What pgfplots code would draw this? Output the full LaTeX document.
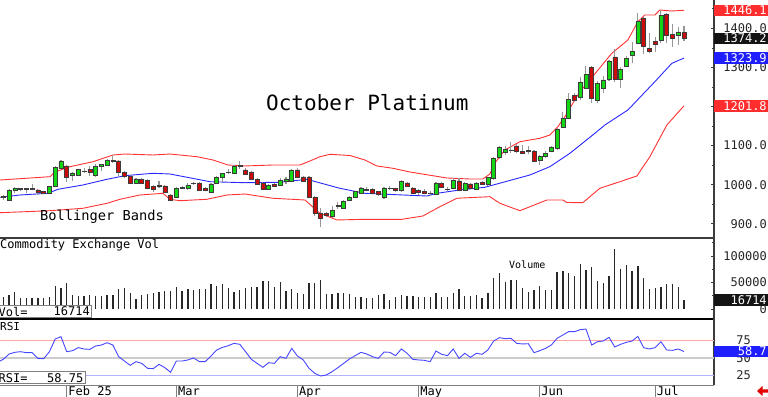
\documentclass[border=0pt]{standalone}
\usepackage{pgfplots}
\pgfplotsset{compat=1.18}
\usepackage{pgfplotstable}
\usepackage{fontspec}
\setmainfont{DejaVu Sans Mono}
\definecolor{bandred}{RGB}{255,50,50}
\definecolor{bandblue}{RGB}{40,40,255}
\definecolor{upgreen}{RGB}{20,215,20}
\definecolor{downred}{RGB}{205,10,10}
\definecolor{wickgray}{RGB}{150,150,150}
\definecolor{bodyline}{RGB}{60,60,60}
\definecolor{boxred}{RGB}{255,45,45}
\definecolor{boxblue}{RGB}{30,30,255}
\definecolor{boxblack}{RGB}{20,20,20}
\definecolor{framegray}{RGB}{60,60,60}
\definecolor{rsiblue}{RGB}{70,70,255}
\definecolor{volbar}{RGB}{40,40,40}
\newcommand{\fs}[1]{\fontsize{#1}{#1}\selectfont}

\pgfplotstableread{
k o h l c
0 968 974 962 970
1 961 988 958 985
2 985 994 979 991
3 988 992 985 990
4 990 992 978 989
5 988 1001 986 990
6 987 990 974 980
7 983 985 976 978
8 978 997 976 995
9 997 1047 995 1044
10 1042 1062 1040 1059
11 1048 1050 1008 1020
12 1024 1032 1010 1030
13 1025 1041 1023 1039
14 1035 1042 1030 1035.5
15 1039 1048 1023 1033
16 1023 1052 1019 1046
17 1047 1054 1035 1052
18 1050 1065 1048 1063
19 1063 1076 1055 1061
20 1061 1063 1022 1031
21 1031 1034 1018 1022
22 1022 1025 1002 1004
23 1005 1016 1003 1014
24 1013 1018 1002 1004
25 1012 1014 989 991
26 995 998 982 988
27 997 1010 992 997.5
28 997 999 978 980
29 974 976 958 961
30 968 995 966 991
31 992 996 988 992.5
32 992 1005 986 999
33 1003 1008 999 1003.5
34 1005 1008 984 986
35 991 995 984 987
36 980 1004 978 1001
37 1005 1023 1002 1018
38 1018 1031 1006 1029
39 1032 1040 1028 1032.5
40 1029 1050 1028 1046
41 1046 1060 1040 1050
42 1038 1042 1024 1026
43 1033 1036 1012 1014
44 1014 1016 999 1001
45 1005 1007 986 988
46 989 1001 987 999
47 1001 1004 994 997
48 999 1018 997 1012
49 1010 1020 1003 1015
50 1010 1041 1008 1038
51 1038 1042 1016 1018
52 1020 1022 1006 1008
53 1019 1021 966 968
54 968 970 921 927
55 928 940 891 914
56 927 930 918 922
57 920 946 914 934
58 945 955 938 947
59 941 960 938 957
60 961 972 958 969
61 967 985 965 982
62 979 993 976 991
63 986 995 983 989
64 988 992 975 978
65 982 985 970 976
66 969 993 964 991
67 990 997 986 991
68 990 992 981 986
69 985 1012 982 1008
70 1005 1008 993 995
71 992 994 976 978
72 986 989 974 980
73 983 988 975 977
74 977 983 970 978
75 976 1007 974 1004
76 1004 1006 991 993
77 988 993 984 989
78 991 1016 989 1012
79 1010 1018 984 986
80 986 1006 984 1004
81 1002 1005 989 991
82 988 1008 986 1005
83 1006 1009 998 1001
84 1000 1020 996 1018
85 1016 1070 1012 1067
86 1070 1100 1067 1095
87 1084 1099 1076 1090
88 1088 1110 1080 1089
89 1099 1104 1080 1086
90 1086 1102 1079 1080
91 1085 1100 1079 1087
92 1086 1090 1058 1061
93 1063 1076 1050 1072
94 1072 1086 1068 1080
95 1085 1099 1083 1097
96 1093 1145 1090 1142
97 1147 1185 1144 1170
98 1170 1234 1167 1219
99 1229 1235 1214 1216
100 1224 1275 1216 1263
101 1247 1303 1244 1283
102 1300 1304 1208 1221
103 1217 1266 1210 1259
104 1247 1278 1235 1268
105 1270 1320 1266 1316
106 1327 1346 1263 1270
107 1270 1300 1247 1295
108 1304 1330 1300 1324
109 1330 1366 1311 1342
110 1363 1440 1362 1417
111 1426 1430 1334 1353
112 1349 1387 1338 1342
113 1366 1378 1340 1359
114 1370 1447 1362 1434
115 1436 1440 1362 1383
116 1385 1411 1353 1374
117 1383 1404 1357 1391
118 1389 1406 1368 1374.2
}\ohlc

\pgfplotstableread{
k v
0 22000
1 26400
2 31400
3 20100
4 20100
5 20100
6 20100
7 20100
8 23300
9 44000
10 39000
11 48400
12 26400
13 25200
14 25200
15 26400
16 25200
17 25200
18 26400
19 26400
20 37700
21 40300
22 29600
23 18200
24 26400
25 28300
26 29600
27 31400
28 34000
29 34000
30 42100
31 34000
32 37700
33 35900
34 37100
35 37700
36 47200
37 44000
38 46500
39 40300
40 31400
41 35900
42 40300
43 40900
44 42100
45 52800
46 52800
47 42100
48 51600
49 34000
50 37700
51 29600
52 27700
53 49700
54 49700
55 54700
56 28300
57 28300
58 29600
59 29600
60 27700
61 23300
62 23300
63 21400
64 20100
65 26400
66 27700
67 17000
68 23300
69 26400
70 24500
71 24500
72 23300
73 23300
74 23300
75 29600
76 23300
77 23300
78 29600
79 37700
80 24500
81 25200
82 26400
83 20100
84 29600
85 59100
86 67300
87 51600
88 54700
89 54700
90 39000
91 32700
92 35900
93 44000
94 35900
95 35900
96 69200
97 71700
98 67300
99 62900
100 84300
101 73600
102 78600
103 52800
104 48400
105 62900
106 113200
107 75500
108 83000
109 71700
110 81100
111 57900
112 37100
113 39000
114 42100
115 46500
116 46500
117 42100
118 16714
}\voltab

\pgfplotstableread{
k v
-0.57 1012.0
8.09 1020.5
8.96 1032.5
11.56 1046.1
15.55 1058.8
19.01 1076.0
21.09 1078.5
25.94 1076.0
28.89 1078.5
33.57 1071.6
36.34 1063.2
38.94 1050.4
41.89 1047.9
46.74 1050.4
51.42 1050.4
53.15 1060.6
54.89 1071.6
56.62 1077.8
60.09 1074.7
62.69 1063.2
64.77 1047.9
67.54 1042.0
70.49 1032.5
76.90 1017.2
80.89 1014.6
83.14 1014.6
84.35 1027.4
85.22 1055.5
86.95 1088.8
89.55 1110.0
93.02 1118.7
94.75 1127.1
96.13 1148.4
97.35 1173.9
98.73 1208.2
99.95 1237.9
101.68 1267.8
104.28 1314.6
105.49 1336.1
108.27 1370.1
110.0 1416.9
111.21 1434.0
112.95 1434.0
113.81 1446.8
115.89 1444.3
118 1446.1
}\bbup

\pgfplotstableread{
k v
-0.57 967.8
2.89 973.7
7.75 978.0
9.48 988.3
13.81 999.3
17.97 1013.8
21.09 1023.1
25.94 1029.2
28.89 1027.4
35.82 1007.7
41.89 1005.1
47.96 1006.2
52.63 1013.8
58.35 990.8
62.69 978.0
69.27 973.7
73.43 971.1
75.16 978.0
79.15 986.5
83.48 993.4
91.28 1024.8
94.75 1046.1
98.21 1080.3
102.55 1131.5
104.28 1152.7
108.27 1191.1
112.95 1263.5
115.89 1310.5
118 1323.9
}\bbmid

\pgfplotstableread{
k v
-0.57 928.4
8.09 933.5
13.81 939.7
17.97 952.4
20.23 962.7
23.69 973.7
27.68 978.0
28.89 962.7
30.62 959.1
35.3 962.7
38.77 973.7
41.89 976.2
46.74 965.3
52.29 960.9
54.89 926.9
57.84 909.8
62.69 911.5
69.1 911.5
72.74 920.0
75.68 943.8
78.63 965.3
84.35 969.4
86.08 952.5
89.55 933.5
94.23 960.9
97.0 960.9
97.69 954.5
100.46 954.0
103.41 990.8
106.88 1007.7
109.83 1022.3
112.08 1071.6
115.03 1152.7
118 1201.8
}\bblow

\pgfplotstableread{
k r
-0.57 45.3
0 47.7
1 55.2
2 57.6
3 58.5
4 57.1
5 57.1
6 49.1
7 48.6
8 58.5
9 76.4
10 79.7
11 58.5
12 59.9
13 64.2
14 62.3
15 61.8
16 66.5
17 67.9
18 71.2
19 67.9
20 51.5
21 45.3
22 39.2
23 44.4
24 42.0
25 35.0
26 34.5
27 40.6
28 35.9
29 29.4
30 45.3
31 45.3
32 46.8
33 49.6
34 44.4
35 44.4
36 52.4
37 60.9
38 64.6
39 67.0
40 70.3
41 68.9
42 58.5
43 47.7
44 42.0
45 36.4
46 43.0
47 42.0
48 51.5
49 49.1
50 63.2
51 52.4
52 46.8
53 35.0
54 27.9
55 24.1
56 25.6
57 30.3
58 35.9
59 42.0
60 48.1
61 52.9
62 57.6
63 55.2
64 51.5
65 49.1
66 58.0
67 57.6
68 52.9
69 62.3
70 56.2
71 47.7
72 46.8
73 46.3
74 44.4
75 59.4
76 54.8
77 52.9
78 62.3
79 49.1
80 56.2
81 50.5
82 56.2
83 54.8
84 60.9
85 73.6
86 78.3
87 76.9
88 77.4
89 70.3
90 69.4
91 69.8
92 57.1
93 59.9
94 63.2
95 67.9
96 77.4
97 82.1
98 86.8
99 86.8
100 89.6
101 90.5
102 67.9
103 72.6
104 73.6
105 78.8
106 65.1
107 68.9
108 71.7
109 73.6
110 80.2
111 64.2
112 62.3
113 64.2
114 72.6
115 60.9
116 60.4
117 62.3
118 58.75
}\rsitab

\pgfplotsset{
  panel/.style={scale only axis, width=714bp, xmin=-0.57, xmax=123.2,
    anchor=south west, axis x line*=bottom, axis y line*=right,
    xtick=\empty, clip=false, scaled y ticks=false,
    tick align=inside, major tick length=3bp, minor tick length=2bp,
    tick style={framegray, line width=0.7bp},
    y axis line style={framegray, line width=1.6bp},
    yticklabel style={font=\fs{12bp}, anchor=east, inner sep=0pt, text=black!85},
  },
}
\tikzset{
  valbox/.style={anchor=west, inner xsep=1.5bp, inner ysep=0pt, text width=51bp,
    align=right, minimum height=11.5bp, text=white, font=\fs{12bp}},
}

\begin{document}
\begin{tikzpicture}[x=1bp,y=1bp]
\path[use as bounding box] (0bp,0bp) rectangle (768bp,397bp);

% ---------------- price panel ----------------
\begin{axis}[panel, at={(0bp,159bp)}, height=238bp, ymin=863.7, ymax=1472.4,
  ytick={900,1000,1100,1200,1300,1400},
  yticklabels={900.0,1000.0,1100.0,1200.0,1300.0,1400.0},
  minor ytick={950,1050,1150,1250,1350,1450},
  yticklabel style={xshift=53bp},
  x axis line style={framegray, line width=1.8bp}]
\addplot[bandred, line width=0.9bp] table[x=k, y=v] \bbup;
\addplot[bandblue, line width=0.9bp] table[x=k, y=v] \bbmid;
\addplot[bandred, line width=0.9bp] table[x=k, y=v] \bblow;
\addplot[draw=none, mark=none, forget plot,
  error bars/.cd, y dir=plus, y explicit, error mark=none,
  error bar style={draw=wickgray, line width=1.1bp}]
  table[x=k, y=l, y error expr=\thisrow{h}-\thisrow{l}] \ohlc;
\node[valbox, fill=boxred] at ({rel axis cs:1,0}|-{axis cs:0,1446.1}) {1446.1};
\node[valbox, fill=boxblack] at ({rel axis cs:1,0}|-{axis cs:0,1374.2}) {1374.2};
\node[valbox, fill=boxblue] at ({rel axis cs:1,0}|-{axis cs:0,1323.9}) {1323.9};
\node[valbox, fill=boxred] at ({rel axis cs:1,0}|-{axis cs:0,1201.8}) {1201.8};
\end{axis}

% candle bodies
\begin{axis}[scale only axis, width=714bp, height=238bp, at={(0bp,159bp)}, anchor=south west,
  xmin=-0.57, xmax=123.2, ymin=863.7, ymax=1472.4, hide axis,
  ybar stacked, bar width=4bp, clip=true]
\addplot[draw=none, fill=none] table[x=k, y expr={min(\thisrow{o},\thisrow{c})}] \ohlc;
\addplot[draw=bodyline, fill=upgreen, line width=0.5bp] table[x=k, y expr={max(\thisrow{c}-\thisrow{o},0)}] \ohlc;
\addplot[draw=bodyline, fill=downred, line width=0.5bp] table[x=k, y expr={max(\thisrow{o}-\thisrow{c},0)}] \ohlc;
\end{axis}

% ---------------- volume panel ----------------
\begin{axis}[panel, at={(0bp,78bp)}, height=81bp, ymin=-18900, ymax=134000,
  ytick={0,50000,100000}, yticklabels={0,50000,100000},
  minor ytick={25000,75000,125000},
  yticklabel style={xshift=53bp},
  x axis line style={black, line width=1.4bp}]
\addplot[ycomb, volbar, line width=1.3bp] table[x=k, y=v] \voltab;
\node[valbox, fill=boxblack] at ({rel axis cs:1,0}|-{axis cs:0,16714}) {16714};
\end{axis}

% ---------------- RSI panel ----------------
\begin{axis}[panel, at={(0bp,12bp)}, height=66bp, ymin=11.4, ymax=104.7,
  ytick={25,50,75}, yticklabels={25,50,75},
  yticklabel style={xshift=37bp},
  x axis line style={gray, line width=1bp}]
\addplot[red!35, line width=0.8bp] coordinates {(-0.57,75) (123.2,75)};
\addplot[black!20, line width=2bp] coordinates {(-0.57,50) (123.2,50)};
\addplot[blue!30, line width=1.2bp] coordinates {(-0.57,25) (123.2,25)};
\addplot[rsiblue, line width=0.9bp] table[x=k, y=r] \rsitab;
\node[valbox, fill=boxblue] at ({rel axis cs:1,0}|-{axis cs:0,58.75}) {58.7};
\end{axis}

% ---------------- date strip ----------------
\begin{axis}[scale only axis, width=714bp, height=12bp, at={(0bp,0bp)}, anchor=south west,
  xmin=-0.57, xmax=123.2, ymin=0, ymax=1, axis line style={draw=none}, ytick=\empty,
  xtick={11,30,51,72,93,113}, xticklabels={Feb 25,Mar,Apr,May,Jun,Jul},
  xmajorgrids, grid style={gray, line width=0.8bp}, major tick length=0pt,
  xticklabel style={anchor=base west, inner sep=0pt, xshift=1.5bp, yshift=1.5bp, font=\fs{12bp}}]
\addplot[draw=none] coordinates {(0,0.5)};
\end{axis}

% ---------------- texts ----------------
\node[anchor=west, inner sep=0pt, font=\fs{21bp}] at (266bp,294bp) {October Platinum};
\node[anchor=west, inner sep=0pt, font=\fs{13.7bp}] at (40bp,180bp) {Bollinger Bands};
\node[anchor=west, inner sep=0pt, font=\fs{12bp}] at (0bp,151.5bp) {Commodity Exchange Vol};
\node[anchor=west, inner sep=0pt, font=\fs{10bp}] at (509bp,132bp) {Volume};
\node[anchor=west, inner sep=0pt, font=\fs{11bp}] at (0bp,70.5bp) {RSI};

\node[draw=gray, fill=white, line width=0.8bp, anchor=south west, minimum width=92bp, minimum height=12bp, inner sep=0pt] at (-1bp,79.5bp) {};
\node[anchor=west, inner sep=0pt, font=\fs{12bp}] at (-1.5bp,85.5bp) {Vol=};
\node[anchor=east, inner sep=0pt, font=\fs{12bp}] at (90bp,85.5bp) {16714};
\node[draw=gray, fill=white, line width=0.8bp, anchor=south west, minimum width=86bp, minimum height=12.5bp, inner sep=0pt] at (-1bp,13bp) {};
\node[anchor=west, inner sep=0pt, font=\fs{12bp}] at (-1.5bp,19.3bp) {RSI=};
\node[anchor=east, inner sep=0pt, font=\fs{12bp}] at (83.5bp,19.3bp) {58.75};

\fill[red!90!black] (757bp,6bp) -- (762.5bp,11bp) -- (762.5bp,7.6bp) -- (768bp,7.6bp) -- (768bp,4.4bp) -- (762.5bp,4.4bp) -- (762.5bp,1bp) -- cycle;
\end{tikzpicture}
\end{document}
